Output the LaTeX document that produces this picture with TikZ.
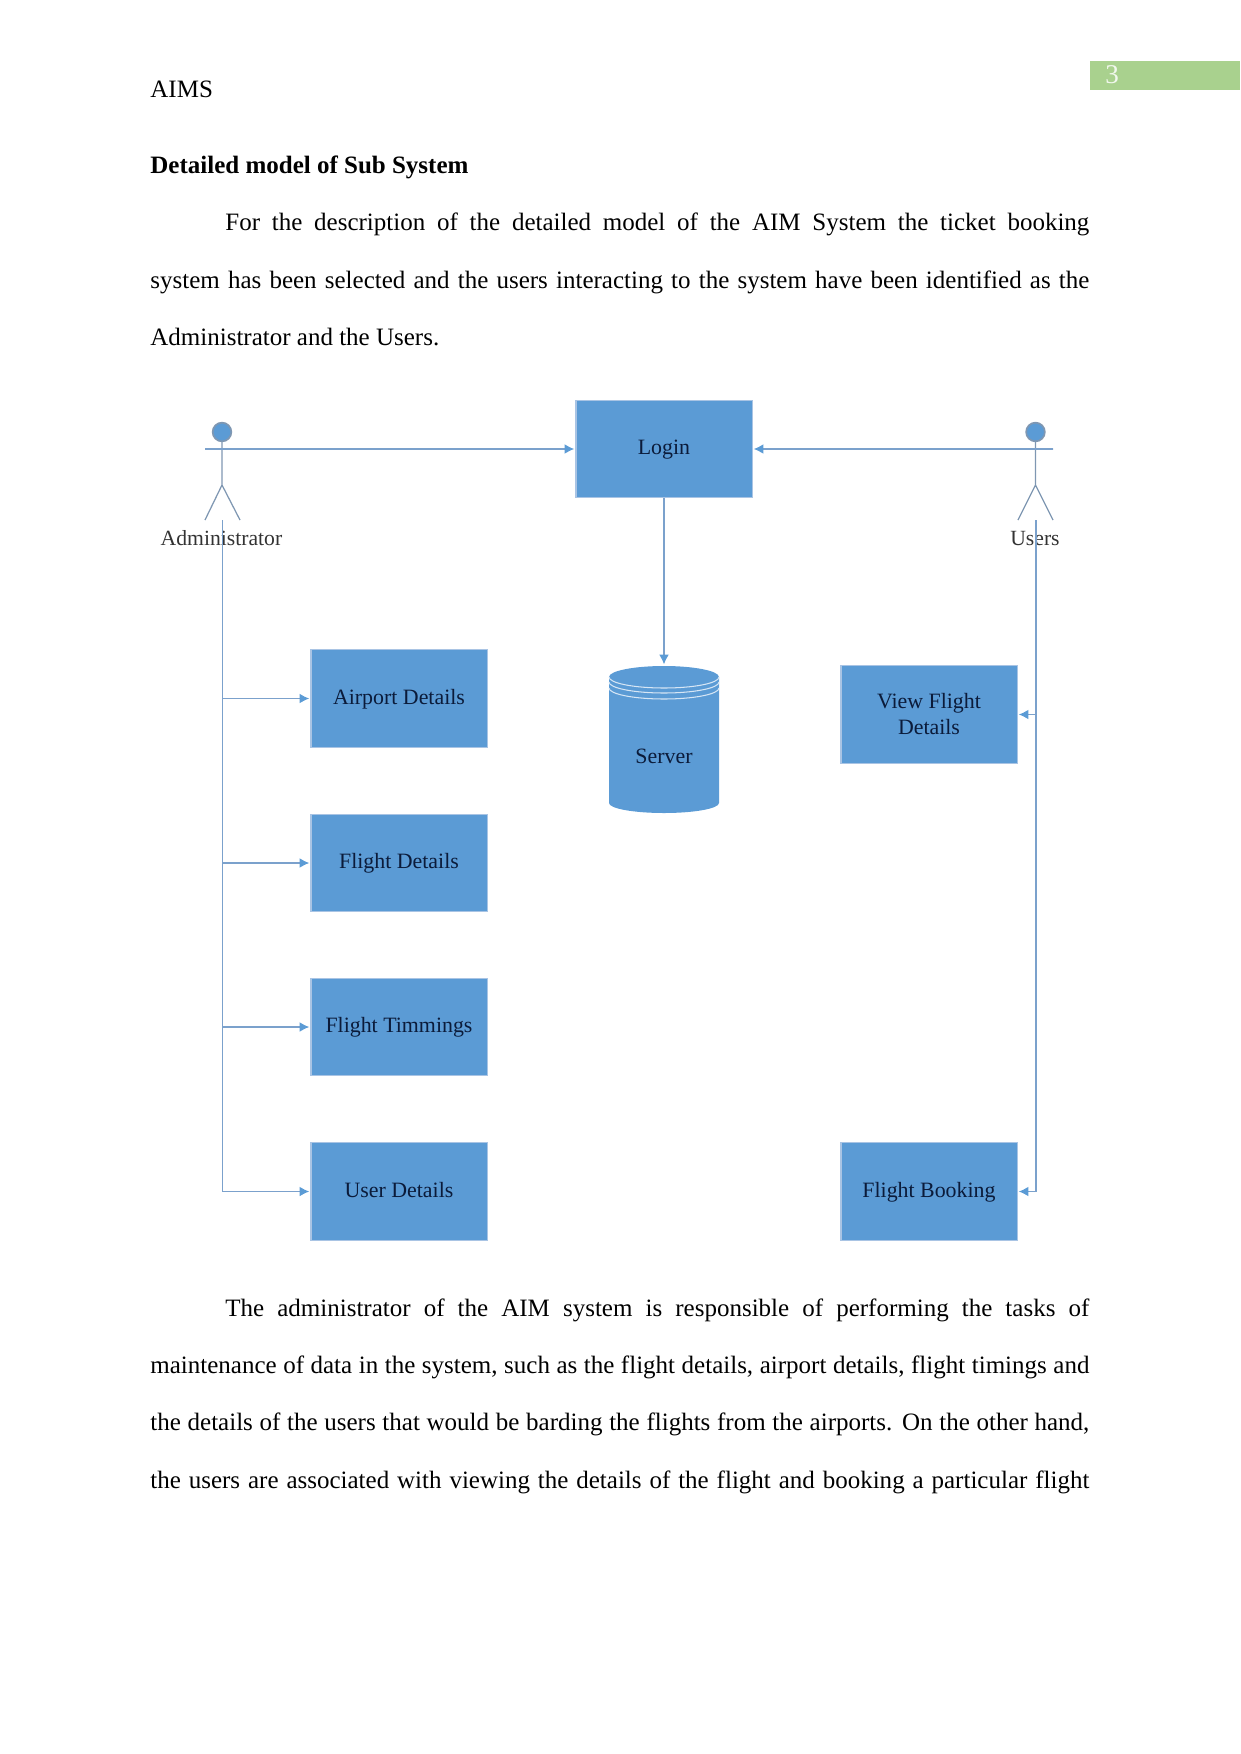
\documentclass[tikz,border=0pt]{standalone}
\usepackage{fontspec}
\setmainfont{Liberation Serif}
\usetikzlibrary{arrows.meta}
\definecolor{boxblue}{HTML}{5B9BD5}
\definecolor{boxedge}{HTML}{A9C4E4}
\definecolor{linkblue}{HTML}{7BA1CC}
\definecolor{actorgrey}{HTML}{7F97B2}
\definecolor{navy}{HTML}{0B1B3A}
\definecolor{pagegreen}{HTML}{A9D18E}
\newcommand{\fullline}[1]{\makebox[450.7pt][s]{#1}}
\newcommand{\indentline}[1]{\makebox[414.7pt][s]{#1}}
\tikzset{
  pagetext/.style={anchor=base west,inner sep=0pt,font=\fontsize{12}{14}\selectfont,text=black},
  procbox/.style={draw=boxedge,line width=0.5pt,fill=boxblue,minimum width=84.5pt,minimum height=47pt,inner sep=0pt,
    align=center,text=navy,font=\fontsize{10.5}{12}\selectfont},
  oneline/.style={text height=7.6pt,text depth=2.2pt},
  actorhead/.style={circle,draw=actorgrey,fill=boxblue,line width=0.8pt,minimum size=9pt,inner sep=0pt},
  actorline/.style={draw=actorgrey,line width=0.6pt},
  actorlabel/.style={inner sep=0pt,text=black!80,font=\fontsize{10.4}{12}\selectfont},
  link/.style={draw=linkblue,line width=0.5pt,-{Latex[length=4.6pt,width=4.6pt,color=boxblue]},shorten >=0.6pt},
}
\begin{document}
\begin{tikzpicture}[x=0.48pt,y=-0.48pt]
\useasboundingbox (0,0) rectangle (1241,1754);
% page furniture
\node[anchor=north west,fill=pagegreen,minimum width=72pt,minimum height=13.6pt,inner sep=0pt] (band) at (1090,61) {};
\node[pagetext,text=white!85!pagegreen,font=\fontsize{13}{14}\selectfont] (pageno) at (1105,83) {3};
\node[pagetext] (head) at (150,97) {AIMS};
\node[pagetext] (title) at (150,173) {\textbf{Detailed model of Sub System}};
\node[pagetext] (p1a) at (225,230) {\indentline{For the description of the detailed model of the AIM System the ticket booking}};
\node[pagetext] (p1b) at (150,288) {\fullline{system has been selected and the users interacting to the system have been identified as the}};
\node[pagetext] (p1c) at (150,345) {Administrator and the Users.};
\node[pagetext] (p2a) at (225,1316) {\indentline{The administrator of the AIM system is responsible of performing the tasks of}};
\node[pagetext] (p2b) at (150,1373) {\fullline{maintenance of data in the system, such as the flight details, airport details, flight timings and}};
\node[pagetext] (p2c) at (150,1430) {\fullline{the details of the users that would be barding the flights from the airports. On the other hand,}};
\node[pagetext] (p2d) at (150,1488) {\fullline{the users are associated with viewing the details of the flight and booking a particular flight}};
% boxes
\node[procbox,oneline] (login) at (664,449) {Login};
\node[procbox,oneline] (airport) at (399,698.5) {Airport Details};
\node[procbox,oneline] (flight) at (399,863) {Flight Details};
\node[procbox,oneline] (timmings) at (399,1027) {Flight Timmings};
\node[procbox,oneline] (userdet) at (399,1191.5) {User Details};
\node[procbox] (view) at (929,714.5) {\raisebox{0.5pt}{View Flight}\\[0.3pt]\raisebox{0.5pt}{Details}};
\node[procbox,oneline] (booking) at (929,1191.5) {Flight Booking};
% server cylinder
\fill[boxblue] (609,677) arc[x radius=55,y radius=11,start angle=180,end angle=360]
  -- (719,803) arc[x radius=55,y radius=10,start angle=0,end angle=180] -- cycle;
\foreach \yy in {677,682,688}
  \draw[white!75!boxblue,line width=0.5pt] (609,\yy) arc[x radius=55,y radius=11,start angle=180,end angle=0];
\node[minimum width=52.8pt,minimum height=70.6pt,inner sep=0pt,text=navy,font=\fontsize{10.5}{12}\selectfont] (server) at (664,739.5) {\raisebox{-11.4pt}[0pt][0pt]{Server}};
% actors
\node[actorhead] (admin) at (222,432) {};
\node[actorhead] (users) at (1035.5,432) {};
\coordinate (adminhip) at (222,485);
\coordinate (adminarm) at (205,449);
\coordinate (adminarmr) at (240,449);
\coordinate (adminlegl) at (205,520);
\coordinate (adminlegr) at (240,520);
\coordinate (adminbus) at (222.5,520);
\coordinate (usership) at (1035.5,485);
\coordinate (usersarm) at (1053,449);
\coordinate (usersarml) at (1018,449);
\coordinate (userslegl) at (1018,520);
\coordinate (userslegr) at (1053,520);
\coordinate (usersbus) at (1036,520);
\draw[actorline] (admin) -- (adminhip) (adminarm) -- (adminarmr) (adminlegl) -- (adminhip) -- (adminlegr);
\draw[actorline] (users) -- (usership) (usersarml) -- (usersarm) (userslegl) -- (usership) -- (userslegr);
\node[actorlabel] (adminlabel) at (221.5,538.5) {Administrator};
\node[actorlabel] (userslabel) at (1035,538.5) {Users};
% connectors
\draw[link] (adminarm) -- (login);
\draw[link] (usersarm) -- (login);
\draw[link] (login) -- (server.north);
\draw[link] (adminbus) |- (airport);
\draw[link] (adminbus) |- (flight);
\draw[link] (adminbus) |- (timmings);
\draw[link] (adminbus) |- (userdet);
\draw[link] (usersbus) |- (view);
\draw[link] (usersbus) |- (booking);
\end{tikzpicture}
\end{document}
